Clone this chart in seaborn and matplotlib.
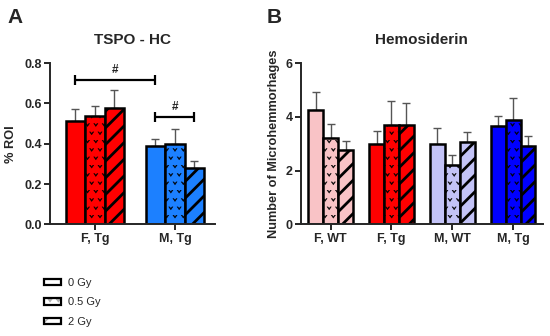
import numpy as np
import pandas as pd
import matplotlib
matplotlib.use("Agg")
import matplotlib.pyplot as plt
from matplotlib import hatch as mhatch
from matplotlib.path import Path
from matplotlib.patches import Patch
from matplotlib.legend_handler import HandlerTuple
import seaborn as sns

# ---- data ----
doses = ["0 Gy", "0.5 Gy", "2 Gy"]

tspo_groups = ["F, Tg", "M, Tg"]
tspo_0 = [0.511, 0.391]
tspo_05 = [0.536, 0.401]
tspo_2 = [0.576, 0.282]
tspo_err_0 = [0.061, 0.035]
tspo_err_05 = [0.054, 0.074]
tspo_err_2 = [0.090, 0.031]

hemo_groups = ["F, WT", "F, Tg", "M, WT", "M, Tg"]
hemo_0 = [4.26, 3.00, 2.99, 3.68]
hemo_05 = [3.22, 3.71, 2.20, 3.87]
hemo_2 = [2.78, 3.71, 3.08, 2.93]
hemo_err_0 = [0.68, 0.47, 0.60, 0.36]
hemo_err_05 = [0.53, 0.89, 0.39, 0.82]
hemo_err_2 = [0.34, 0.82, 0.36, 0.37]

tspo_colors = ["#FF0000", "#1C80FF"]
hemo_colors = ["#F9C3C6", "#FF0000", "#C3C3F7", "#0000FF"]


# small "v" marks used for the 0.5 Gy bars (takes over the '*' hatch)
class Chevrons(mhatch.Shapes):
    filled = True
    size = 0.5

    def __init__(self, hatch, density):
        self.num_rows = hatch.count('*') * density
        self.shape_vertices = np.array([[-0.5, 0.35], [0.0, -0.35], [0.5, 0.35],
                                        [0.3, 0.35], [0.0, -0.02], [-0.3, 0.35],
                                        [-0.5, 0.35]])
        self.shape_codes = np.array([Path.MOVETO] + [Path.LINETO] * 5 + [Path.CLOSEPOLY],
                                    dtype=Path.code_type)
        super().__init__(hatch, density)


mhatch._hatch_types = [t for t in mhatch._hatch_types if t is not mhatch.Stars] + [Chevrons]
hatches = ["", "**", "//"]


def set_hatch_lw(p, lw):
    if hasattr(p, "set_hatch_linewidth"):
        p.set_hatch_linewidth(lw)
    else:
        p._hatch_linewidth = lw


def make_frame(groups, cols, errs):
    rows = []
    for dose, vals, ers in zip(doses, cols, errs):
        for g, v, e in zip(groups, vals, ers):
            rows.append({"group": g, "dose": dose, "mean": v, "err": e})
    return pd.DataFrame(rows)


def draw_panel(ax, df, groups, colors, width):
    sns.barplot(data=df, x="group", y="mean", hue="dose", order=groups,
                hue_order=doses, width=width, errorbar=None, legend=False,
                edgecolor="black", linewidth=1.8, saturation=1, ax=ax, zorder=2)
    bars = list(ax.containers)
    for i, cont in enumerate(bars):
        sub = df[df["dose"] == doses[i]].set_index("group").loc[groups]
        xs, ys = [], []
        for j, bar in enumerate(cont):
            bar.set_facecolor(colors[j])
            bar.set_hatch(hatches[i])
            set_hatch_lw(bar, 2.0 if i == 2 else 0.3)
            xs.append(bar.get_x() + bar.get_width() / 2)
            ys.append(bar.get_height())
        ax.errorbar(xs, ys, yerr=[np.zeros(len(xs)), sub["err"].values],
                    fmt="none", ecolor="#555555", elinewidth=1.0,
                    capsize=3, capthick=1.0, zorder=1)
    sns.despine(ax=ax)
    for s in ["left", "bottom"]:
        ax.spines[s].set_linewidth(1.4)
    ax.tick_params(axis="both", direction="out", length=4, width=1.4,
                   labelsize=9, pad=2)
    ax.set_xlabel("")
    return bars


sns.set_style("ticks")
plt.rcParams["font.family"] = ["Liberation Sans", "DejaVu Sans"]
plt.rcParams["font.weight"] = "bold"
plt.rcParams["axes.labelweight"] = "bold"
plt.rcParams["axes.titleweight"] = "bold"

fig = plt.figure(figsize=(5.5, 3.36), dpi=100)
axA = fig.add_axes([0.0909, 0.332, 0.300, 0.480])
axB = fig.add_axes([0.547, 0.332, 0.440, 0.480])

dfA = make_frame(tspo_groups, [tspo_0, tspo_05, tspo_2],
                 [tspo_err_0, tspo_err_05, tspo_err_2])
dfB = make_frame(hemo_groups, [hemo_0, hemo_05, hemo_2],
                 [hemo_err_0, hemo_err_05, hemo_err_2])

barsA = draw_panel(axA, dfA, tspo_groups, tspo_colors, 0.73)
axA.set_xlim(-0.56, 1.50)
axA.set_ylim(0, 0.8)
axA.set_yticks([0.0, 0.2, 0.4, 0.6, 0.8])
axA.set_yticklabels(["0.0", "0.2", "0.4", "0.6", "0.8"])
axA.set_ylabel("% ROI", fontsize=9.2, labelpad=5)
axA.set_title("TSPO - HC", fontsize=11, pad=14)

# significance brackets
c0, c2 = barsA[0], barsA[2]
cx = lambda b: b.get_x() + b.get_width() / 2
for x1, x2, y in [(cx(c0[0]), cx(c0[1]), 0.717), (cx(c0[1]), cx(c2[1]), 0.531)]:
    axA.plot([x1, x2], [y, y], color="black", lw=1.6, marker="|",
             markersize=7, mew=1.6, solid_capstyle="butt")
    axA.text((x1 + x2) / 2, y + 0.02, "#", ha="center", va="bottom", fontsize=8.5)

draw_panel(axB, dfB, hemo_groups, hemo_colors, 0.735)
axB.set_xlim(-0.49, 3.49)
axB.set_ylim(0, 6)
axB.set_yticks([0, 2, 4, 6])
axB.set_ylabel("Number of Microhemmorhages", fontsize=9.2, labelpad=4)
axB.set_title("Hemosiderin", fontsize=11, pad=14)

fig.text(7 / 550, 1 - 23 / 336, "A", fontsize=15, fontweight="bold")
fig.text(267 / 550, 1 - 23 / 336, "B", fontsize=15, fontweight="bold")

# legend
handles = []
for h in hatches:
    back = Patch(facecolor="white", edgecolor="#b0b0b0", hatch=h, lw=0)
    set_hatch_lw(back, 0.9 if h == "//" else 0.2)
    frame = Patch(facecolor="none", edgecolor="black", lw=1.6)
    handles.append((back, frame))
fig.legend(handles, doses, handler_map={tuple: HandlerTuple(ndivide=1, pad=0)},
           loc="upper left", bbox_to_anchor=(44 / 550, 1 - 278 / 336),
           frameon=False, borderpad=0, borderaxespad=0, handlelength=1.5,
           handleheight=0.55, handletextpad=0.7, labelspacing=0.85,
           prop={"weight": "normal", "size": 8})

fig.savefig("out.png", dpi=100)
